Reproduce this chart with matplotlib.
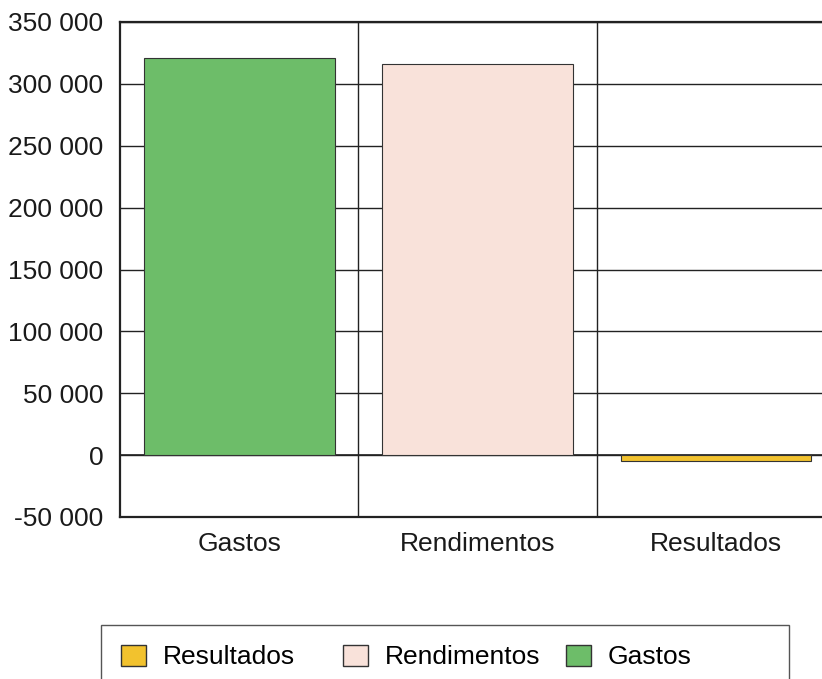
import matplotlib.pyplot as plt
from matplotlib.patches import Patch, Rectangle
from matplotlib.ticker import FuncFormatter

categories = ["Gastos", "Rendimentos", "Resultados"]
values = [321000, 316000, -5000]
colors = ["#6dbd69", "#f9e2da", "#f2c22e"]
yticks = [-50000, 0, 50000, 100000, 150000, 200000, 250000, 300000, 350000]
legend_order = [2, 1, 0]

plt.rcParams["font.family"] = ["Liberation Sans", "DejaVu Sans"]

W, H = 822, 679
fig = plt.figure(figsize=(W / 100, H / 100), dpi=100)
ax = fig.add_axes([120 / W, 1 - 517 / H, 0.87, 495 / H])

x = range(len(categories))
ax.bar(x, values, width=0.8, color=colors, edgecolor="#333333", linewidth=0.8, zorder=3)

ax.set_xlim(-0.5, 2.5)
ax.set_ylim(-50000, 350000)
ax.set_yticks(yticks)
ax.yaxis.set_major_formatter(FuncFormatter(lambda v, p: f"{int(v):,}".replace(",", " ")))
ax.set_xticks(list(x))
ax.set_xticklabels(categories)
ax.tick_params(axis="y", length=0, labelsize=19, colors="#1a1a1a", pad=12)
ax.tick_params(axis="x", length=0, labelsize=19, colors="#1a1a1a", pad=11)

ax.grid(axis="y", color="#222222", linewidth=1.0, zorder=0)
for b in [0.5, 1.5]:
    ax.axvline(b, color="#222222", linewidth=1.0, zorder=1)
ax.axhline(0, color="#222222", linewidth=1.2, zorder=2)
for s in ax.spines.values():
    s.set_linewidth(1.6)
    s.set_color("#222222")

# legend box
fig.add_artist(Rectangle((101 / W, -0.02), 688 / W, (H - 625) / H + 0.02,
                         transform=fig.transFigure, facecolor="white",
                         edgecolor="#555555", linewidth=1.0))
item_x = [121, 343, 566]
for i, px in zip(legend_order, item_x):
    fig.legend([Patch(facecolor=colors[i], edgecolor="#333333")], [categories[i]],
               loc="center left", bbox_to_anchor=(px / W, 1 - 657 / H),
               frameon=False, fontsize=19, handlelength=0.95, handleheight=0.87,
               handletextpad=0.64, borderpad=0, borderaxespad=0)

fig.savefig("out.png", dpi=100)
